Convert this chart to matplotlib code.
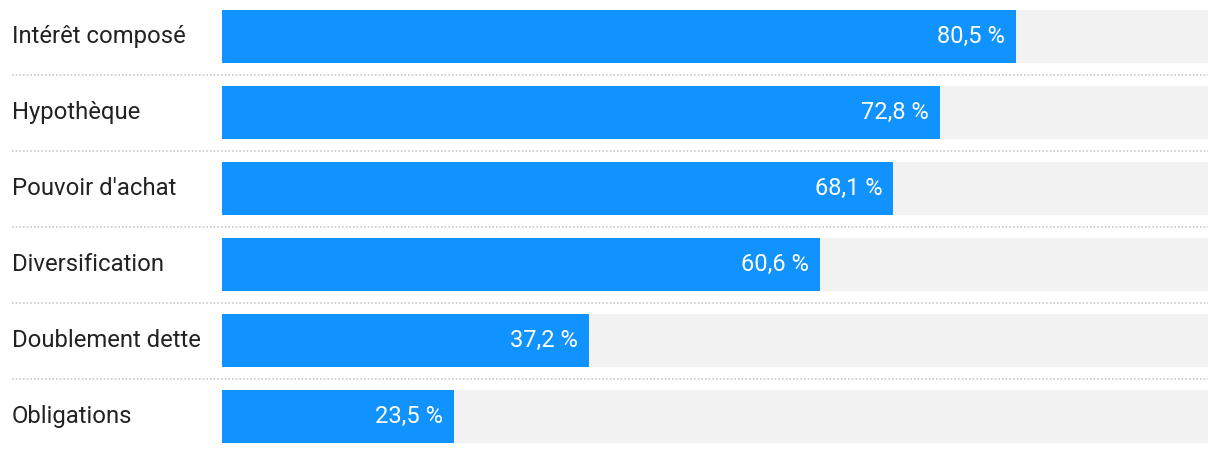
import matplotlib.pyplot as plt

categories = ["Intérêt composé", "Hypothèque", "Pouvoir d'achat",
              "Diversification", "Doublement dette", "Obligations"]
values = [80.5, 72.8, 68.1, 60.6, 37.2, 23.5]
value_labels = ["80,5 %", "72,8 %", "68,1 %", "60,6 %", "37,2 %", "23,5 %"]

W, H = 1220, 454
plt.rcParams['font.family'] = ['Roboto', 'DejaVu Sans']

fig = plt.figure(figsize=(W / 100, H / 100), dpi=100)
ax = fig.add_axes([222 / W, 0, 986 / W, 1])

row_px = 76
first_center = 36.5
bar_h = 53 / row_px
n = len(categories)
pos = list(range(n))

ax.barh(pos, [100] * n, height=bar_h, color='#f2f2f2', zorder=1)
ax.barh(pos, values, height=bar_h, color='#1093ff', zorder=2)

for i, (cat, v, lab) in enumerate(zip(categories, values, value_labels)):
    ax.text(-210 / 986 * 100, i, cat, ha='left', va='center',
            fontsize=17.2, color='#222222', clip_on=False)
    ax.text(v - 11 / 986 * 100, i, lab, ha='right', va='center',
            fontsize=17, color='white', zorder=3)

for i in range(n - 1):
    ax.plot([-210 / 986 * 100, 100], [i + 0.5, i + 0.5], color='#cccccc',
            linewidth=1.2, linestyle=(0, (1, 1.2)), clip_on=False, zorder=0)

ax.set_xlim(0, 100)
ax.set_ylim((H - first_center) / row_px, -first_center / row_px)
ax.axis('off')

fig.savefig('out.png', dpi=100)
